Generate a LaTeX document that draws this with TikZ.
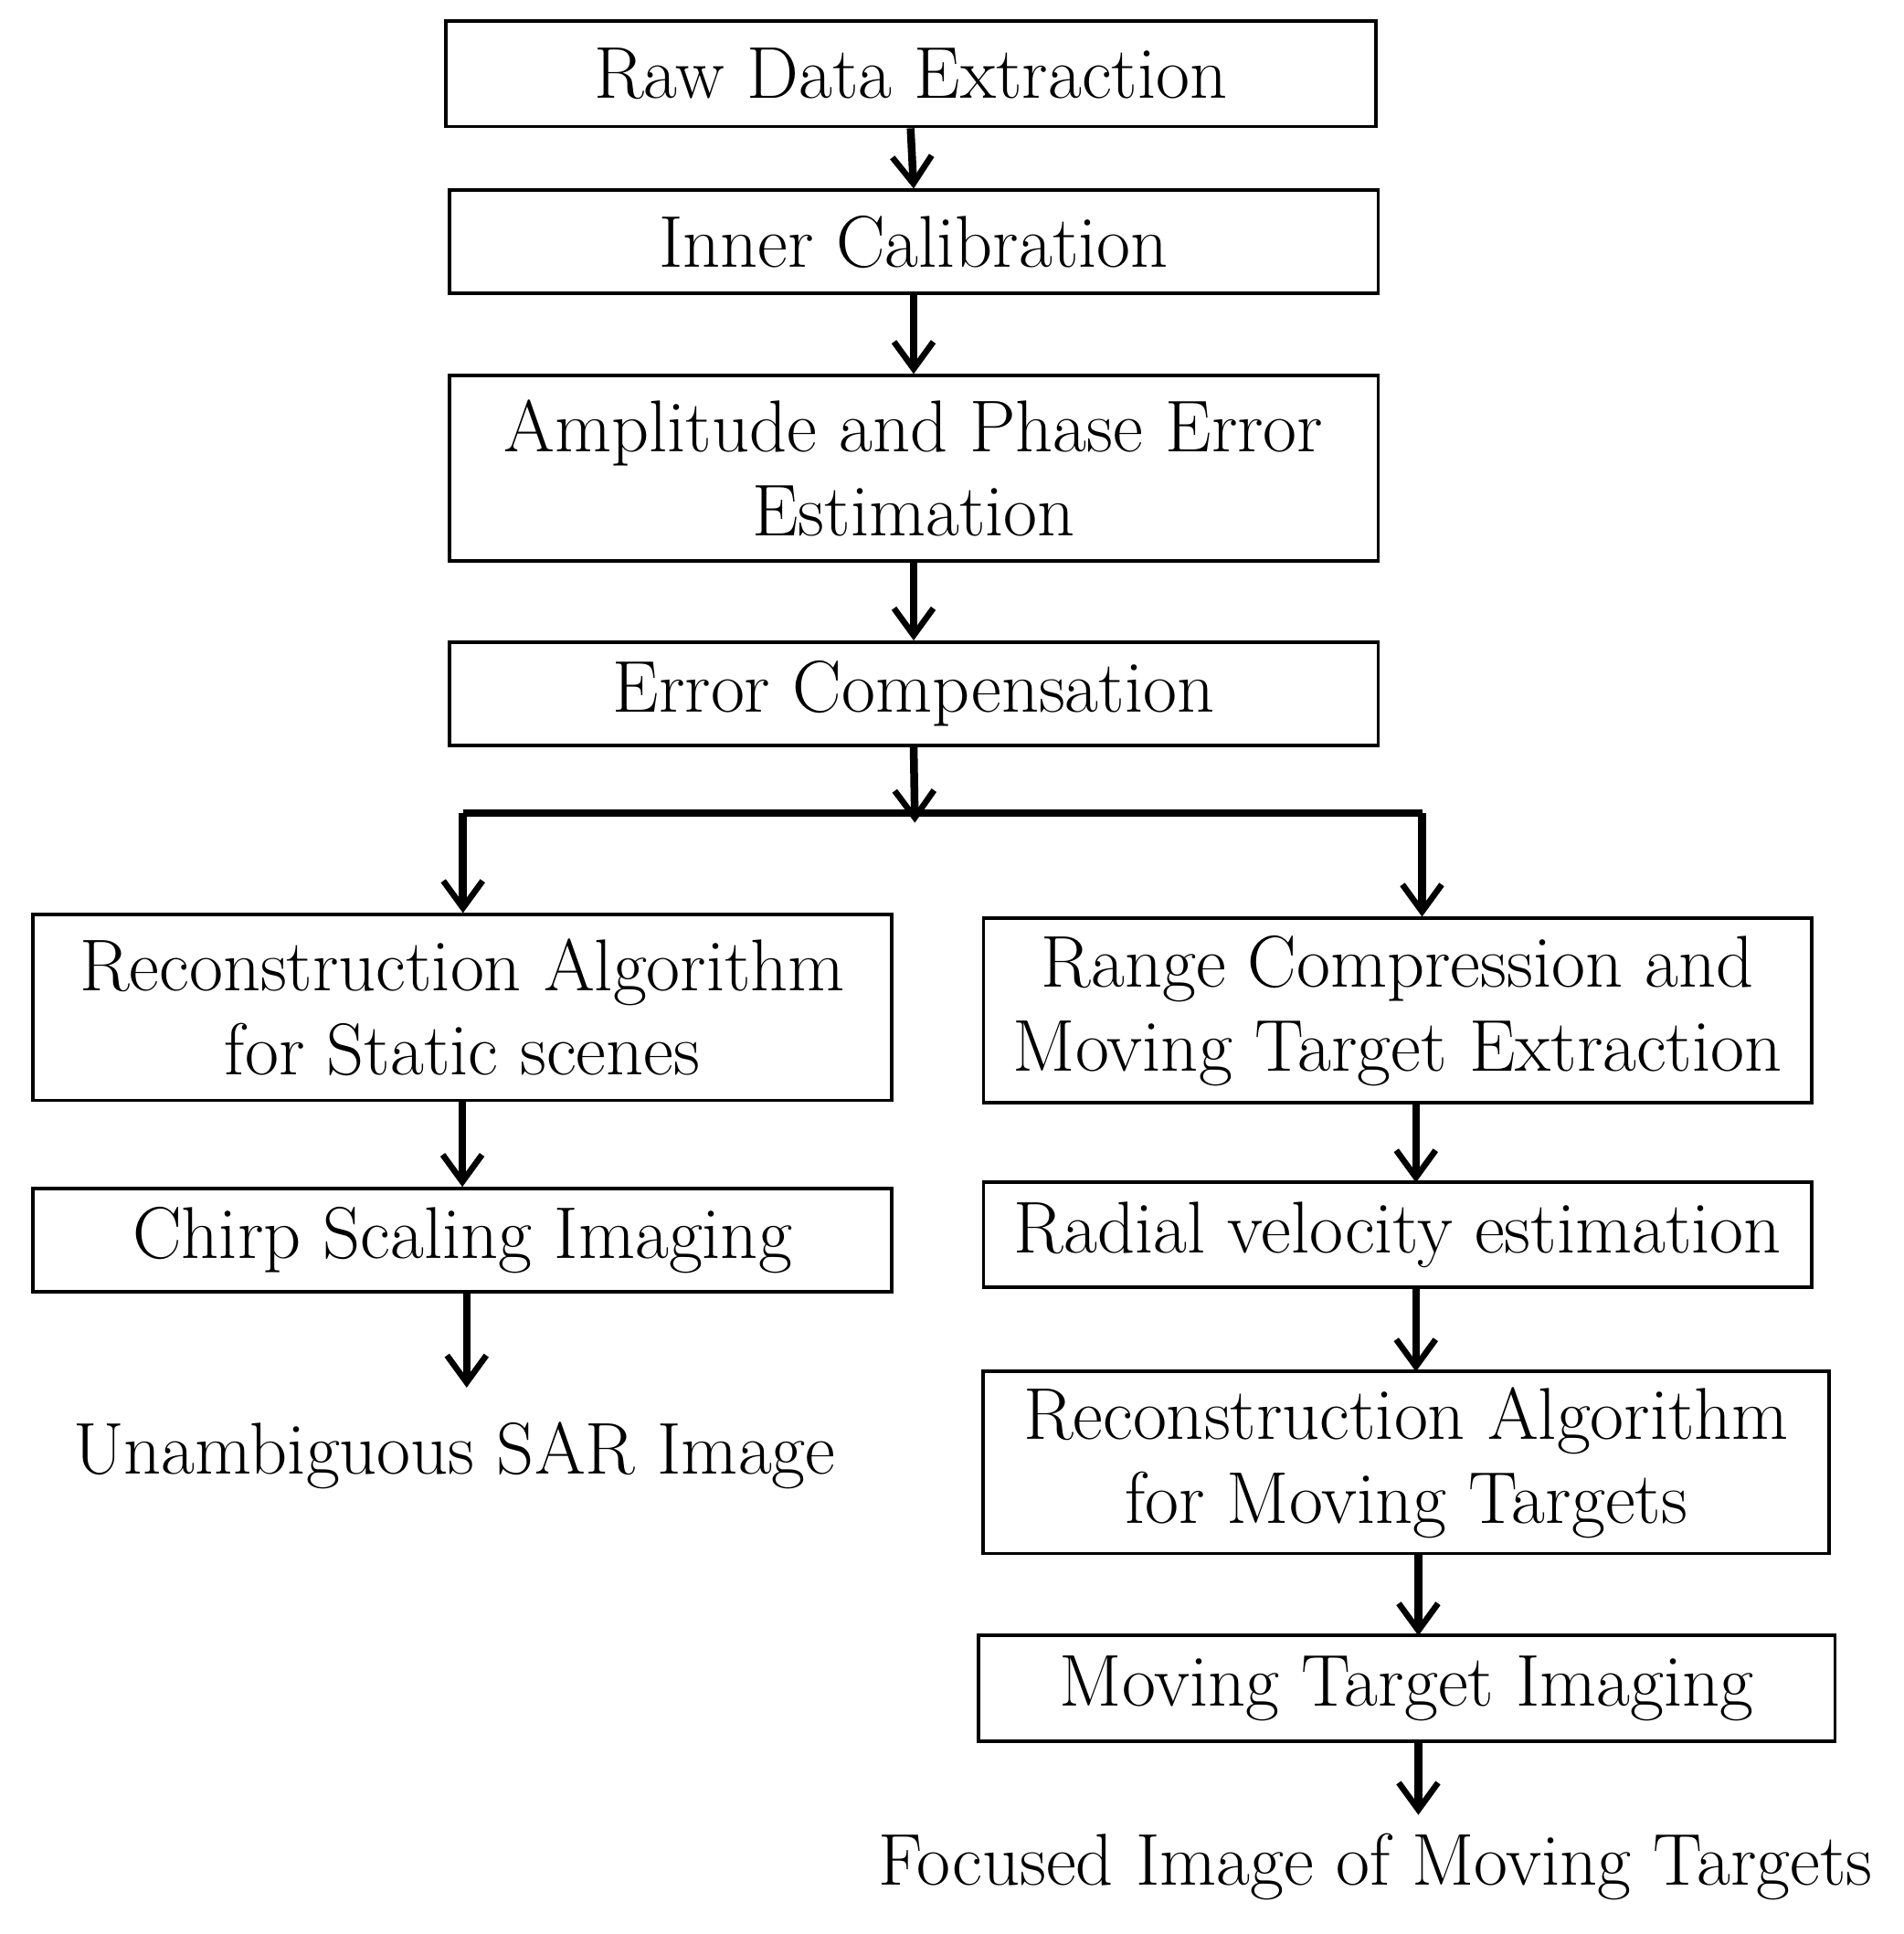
\documentclass[tikz,border=0pt]{standalone}
\usetikzlibrary{arrows.meta}
\begin{document}
\begin{tikzpicture}[x=0.01cm,y=-0.01cm,
  box/.style={draw,line width=0.8pt,align=center,inner sep=0pt,font=\fontsize{17}{19.5}\selectfont},
  lbl/.style={align=center,font=\fontsize{17}{19.5}\selectfont},
  arr/.style={line width=1.8pt,-{Straight Barb[length=2.2mm,width=3.2mm,line width=1.4pt]}},
  ln/.style={line width=1.8pt}]
\useasboundingbox (0,0) rectangle (1550,1575);
\node[box,minimum width=7.57cm,minimum height=0.86cm] (a) at (741.5,60) {Raw Data Extraction};
\node[box,minimum width=7.56cm,minimum height=0.84cm] (b) at (744,197) {Inner Calibration};
\node[box,minimum width=7.56cm,minimum height=1.51cm] (c) at (744,381.5) {Amplitude and Phase Error\\Estimation};
\node[box,minimum width=7.56cm,minimum height=0.84cm] (d) at (744,565) {Error Compensation};
\coordinate (s) at (745,662);
\coordinate (sl) at (377,662);
\coordinate (sr) at (1158,662);
\node[box,minimum width=6.99cm,minimum height=1.51cm] (l1) at (376.5,820.5) {Reconstruction Algorithm\\for Static scenes};
\node[box,minimum width=6.99cm,minimum height=0.84cm] (l2) at (376.5,1010) {Chirp Scaling Imaging};
\node[lbl] (l3) at (370,1185) {Unambiguous SAR Image};
\node[box,minimum width=6.74cm,minimum height=1.50cm] (r1) at (1138,823) {Range Compression and\\Moving Target Extraction};
\node[box,minimum width=6.74cm,minimum height=0.85cm] (r2) at (1138,1005.5) {Radial velocity estimation};
\node[box,minimum width=6.88cm,minimum height=1.48cm] (r3) at (1145,1191) {Reconstruction Algorithm\\for Moving Targets};
\node[box,minimum width=6.97cm,minimum height=0.86cm] (r4) at (1145.5,1375) {Moving Target Imaging};
\node[lbl] (r5) at (1120,1520) {Focused Image of Moving Targets};
\draw[arr] (a.south) -- (b.north);
\draw[arr] (b.south) -- (c.north);
\draw[arr] (c.south) -- (d.north);
\draw[arr] (d.south) -- ([yshift=-0.08cm]s);
\draw[ln] (sl) -- (sr);
\draw[arr] (sl) -- (sl |- l1.north);
\draw[arr] (sr) -- (sr |- r1.north);
\draw[arr] (l1.south) -- (l2.north);
\draw[arr] (380,1052) -- (380,1130) coordinate (l3t);
\draw[arr] (1153,898) -- (1153,963);
\draw[arr] (1153,1048) -- (1153,1117);
\draw[arr] (1155,1265) -- (1155,1332);
\draw[arr] (1155,1418) -- (1155,1478);
\end{tikzpicture}
\end{document}
